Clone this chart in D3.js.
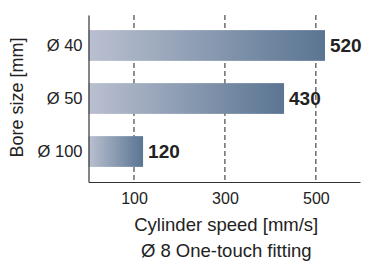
<!DOCTYPE html>
<html>
<head>
<meta charset="utf-8">
<script src="https://cdn.jsdelivr.net/npm/d3@7"></script>
<style>
  body { margin: 0; background: #fff; }
  text { font-family: "Liberation Sans", Arial, sans-serif; fill: #222; }
</style>
</head>
<body>
<div id="chart"></div>
<script>
var svgWidth = 365;
var svgHeight = 262;

// data
var bores = ["Ø 40", "Ø 50", "Ø 100"];
var speeds = [520, 430, 120];
var gridTicks = [100, 300, 500];
var xTitle = "Cylinder speed [mm/s]";
var xSubtitle = "Ø 8 One-touch fitting";
var yTitle = "Bore size [mm]";

var margin = { top: 15, right: 5, bottom: 80, left: 88.5 };
var width = svgWidth - margin.left - margin.right;
var height = svgHeight - margin.top - margin.bottom;

var svg = d3.select("#chart")
  .append("svg")
  .attr("width", svgWidth)
  .attr("height", svgHeight);

// gradient for the bars, light on the left, steel blue on the right
var grad = svg.append("defs").append("linearGradient")
  .attr("id", "barGrad")
  .attr("x1", "0%").attr("x2", "100%")
  .attr("y1", "0%").attr("y2", "0%");
grad.append("stop").attr("offset", "0%").attr("stop-color", "#bac0d0");
grad.append("stop").attr("offset", "100%").attr("stop-color", "#5a7592");

var chartGroup = svg.append("g")
  .attr("transform", `translate(${margin.left}, ${margin.top})`);

var data = bores.map((b, i) => ({ bore: b, speed: speeds[i] }));

var xScale = d3.scaleLinear()
  .domain([0, 597])
  .range([0, width]);

var yScale = d3.scaleBand()
  .domain(bores)
  .range([0, height])
  .paddingInner(0.42)
  .paddingOuter(0.285);

// dashed grid lines
chartGroup.selectAll(".grid")
  .data(gridTicks)
  .enter()
  .append("line")
  .attr("x1", d => xScale(d))
  .attr("x2", d => xScale(d))
  .attr("y1", 0)
  .attr("y2", height)
  .attr("stroke", "#222")
  .attr("stroke-width", 1)
  .attr("stroke-dasharray", "5,3");

// bars
chartGroup.selectAll("rect")
  .data(data)
  .enter()
  .append("rect")
  .attr("x", 0)
  .attr("y", d => yScale(d.bore))
  .attr("width", d => xScale(d.speed))
  .attr("height", yScale.bandwidth())
  .attr("fill", "url(#barGrad)");

// value labels
chartGroup.selectAll(".val")
  .data(data)
  .enter()
  .append("text")
  .attr("x", d => xScale(d.speed) + 5)
  .attr("y", d => yScale(d.bore) + yScale.bandwidth() / 2)
  .attr("dy", "0.36em")
  .attr("font-size", "19px")
  .attr("font-weight", "bold")
  .text(d => d.speed);

// axes
var bottomAxis = d3.axisBottom(xScale).tickValues(gridTicks).tickSize(0).tickPadding(11);
var leftAxis = d3.axisLeft(yScale).tickSize(0).tickPadding(6);

var xAxis = chartGroup.append("g")
  .attr("transform", `translate(0, ${height})`)
  .call(bottomAxis);
xAxis.select(".domain").attr("stroke", "#333").attr("stroke-width", 1.2);
xAxis.selectAll("text").attr("font-size", "16px").attr("fill", "#222")
  .style("font-family", "Liberation Sans, Arial, sans-serif");

var yAxis = chartGroup.append("g")
  .call(leftAxis);
yAxis.select(".domain").attr("stroke", "#333").attr("stroke-width", 1.2);
yAxis.selectAll("text").attr("font-size", "16.5px").attr("fill", "#222")
  .style("font-family", "Liberation Sans, Arial, sans-serif");

// axis titles
chartGroup.append("text")
  .attr("x", width / 2 + 2)
  .attr("y", height + 49)
  .attr("text-anchor", "middle")
  .attr("font-size", "18.5px")
  .text(xTitle);

chartGroup.append("text")
  .attr("x", width / 2 + 2)
  .attr("y", height + 75)
  .attr("text-anchor", "middle")
  .attr("font-size", "18.5px")
  .text(xSubtitle);

chartGroup.append("text")
  .attr("transform", "rotate(-90)")
  .attr("x", -height / 2 + 1)
  .attr("y", -margin.left + 23)
  .attr("text-anchor", "middle")
  .attr("font-size", "18px")
  .text(yTitle);
</script>
</body>
</html>
